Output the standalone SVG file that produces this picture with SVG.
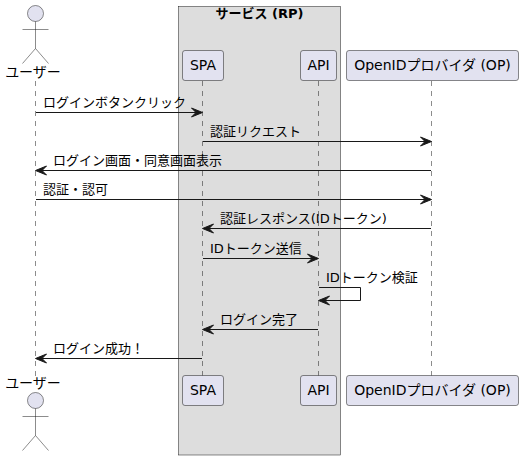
<svg xmlns="http://www.w3.org/2000/svg" width="523" height="460" viewBox="0 0 523 460">
<style>
text{font-family:"DejaVu Sans","Noto Sans CJK JP",sans-serif;font-size:13px;fill:#000}
.b{font-weight:bold}
.n{font-size:14px}
.p{fill:#E2E2F0;stroke:#181818;stroke-width:.5}
.l{stroke:#181818;stroke-width:.5;stroke-dasharray:5,5;fill:none}
.m{stroke:#181818;stroke-width:1;fill:none}
.h{fill:#181818;stroke:#181818}
.a{fill:none;stroke:#181818;stroke-width:.5}
</style>
<defs>
<g id="man"><circle class="p" cx="0" cy="0" r="8"/><path class="a" d="M0 8V35M-13 16H13M0 35L-13 50M0 35L13 50"/></g>
<path id="ar" class="h" d="M-11 -4.500L0 0L-11 4.500L-6.500 0Z"/>
<path id="al" class="h" d="M11 -4.500L0 0L11 4.500L6.500 0Z"/>
</defs>
<g id="box-rp"><rect x="178.5" y="6.5" width="162" height="448.5" fill="#DDDDDD" stroke="#181818" stroke-width=".5"/><text class="b" x="259.5" y="17.5" text-anchor="middle">サービス (RP)</text></g>
<g id="connectors">
<path class="l" d="M35.5 81V376M202.5 81V376M318.5 81V376M431.5 81V376"/>
<path class="m" d="M36 112.500H196"/><use href="#ar" x="202.500" y="112.500"/>
<path class="m" d="M203 141.500H425"/><use href="#ar" x="431.500" y="141.500"/>
<path class="m" d="M42 170.500H431"/><use href="#al" x="35.500" y="170.500"/>
<path class="m" d="M36 199.500H425"/><use href="#ar" x="431.500" y="199.500"/>
<path class="m" d="M209 228.500H431"/><use href="#al" x="202.500" y="228.500"/>
<path class="m" d="M203 258.500H312"/><use href="#ar" x="318.500" y="258.500"/>
<path class="m" d="M319 287.500H360.500V300.500H325"/><use href="#al" x="318.500" y="300.500"/>
<path class="m" d="M209 329.500H318"/><use href="#al" x="202.500" y="329.500"/>
<path class="m" d="M42 358.500H202"/><use href="#al" x="35.500" y="358.500"/>
<text x="43" y="107">ログインボタンクリック</text>
<text x="210" y="136">認証リクエスト</text>
<text x="53" y="165">ログイン画面・同意画面表示</text>
<text x="43" y="194">認証・認可</text>
<text x="220" y="223">認証レスポンス(IDトークン)</text>
<text x="210" y="253">IDトークン送信</text>
<text x="326" y="282">IDトークン検証</text>
<text x="220" y="324">ログイン完了</text>
<text x="53" y="353">ログイン成功！</text>
</g>
<g id="user-top"><use href="#man" x="35.500" y="13.500"/><text class="n" x="33" y="77" text-anchor="middle">ユーザー</text></g>
<g id="user-bottom"><use href="#man" x="35.500" y="400.500"/><text class="n" x="33" y="388" text-anchor="middle">ユーザー</text></g>
<g id="spa-top"><rect class="p" x="182.500" y="50.500" width="41" height="30" rx="2.500"/><text class="n" x="203" y="70" text-anchor="middle">SPA</text></g>
<g id="spa-bottom"><rect class="p" x="182.500" y="375.500" width="41" height="30" rx="2.500"/><text class="n" x="203" y="395" text-anchor="middle">SPA</text></g>
<g id="api-top"><rect class="p" x="300.500" y="50.500" width="36" height="30" rx="2.500"/><text class="n" x="318.500" y="70" text-anchor="middle">API</text></g>
<g id="api-bottom"><rect class="p" x="300.500" y="375.500" width="36" height="30" rx="2.500"/><text class="n" x="318.500" y="395" text-anchor="middle">API</text></g>
<g id="op-top"><rect class="p" x="346.500" y="50.500" width="172" height="30" rx="2.500"/><text class="n" x="432.500" y="70" text-anchor="middle">OpenIDプロバイダ (OP)</text></g>
<g id="op-bottom"><rect class="p" x="346.500" y="375.500" width="172" height="30" rx="2.500"/><text class="n" x="432.500" y="395" text-anchor="middle">OpenIDプロバイダ (OP)</text></g>
</svg>
